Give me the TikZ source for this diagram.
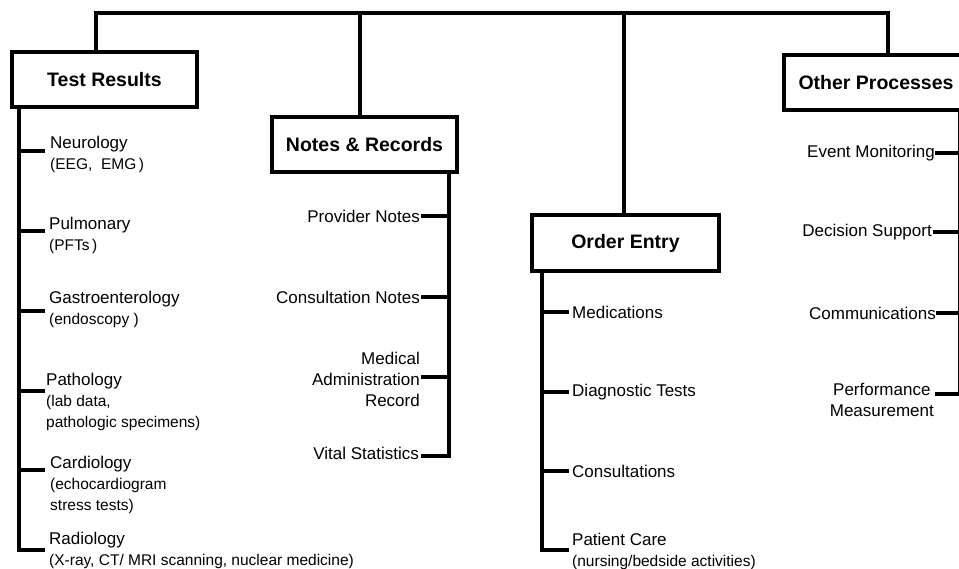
\documentclass[tikz,border=0pt]{standalone}
\usepackage{fontspec}
\setmainfont{Liberation Sans}
\newcommand{\SubTxt}{\fontsize{15.5}{20}\selectfont}
\tikzset{
    TreeLine/.style={line width=3.2pt},
    GroupBox/.style={draw, line width=3.2pt, inner sep=0pt, minimum height=55pt,
        font=\fontsize{19.5}{22}\selectfont\bfseries},
    ItemText/.style={inner sep=0pt, font=\fontsize{17}{21}\selectfont},
    ItemLeft/.style={ItemText, align=left, anchor=base west},
    ItemRight/.style={ItemText, anchor=east},
}

\begin{document}
\begin{tikzpicture}[x=1pt, y=-1pt]

    \clip (0,0) rectangle (959,569);
    \useasboundingbox (0,0) rectangle (959,569);

    % Dibujar las cajas principales
    \node [GroupBox, minimum width=185pt] (tests) at (104.5,79.5) {Test Results};
    \node [GroupBox, minimum width=185pt] (notes) at (364.5,144.5) {Notes \& Records};
    \node [GroupBox, minimum width=187pt, minimum height=56pt] (order) at (625.5,243) {Order Entry};
    \node [GroupBox, minimum width=184pt] (other) at (876,82.5) {Other Processes};

    % Barra superior
    \coordinate (dropA) at (96,13);
    \coordinate (dropB) at (360,13);
    \coordinate (dropC) at (624,13);
    \coordinate (dropD) at (888,13);
    \draw [TreeLine] (dropA |- tests.north) -- (dropA) -- (dropD) -- (dropD |- other.north);
    \draw [TreeLine] (dropB) -- (dropB |- notes.north);
    \draw [TreeLine] (dropC) -- (dropC |- order.north);

    \coordinate (spineA) at (19,0);
    \coordinate (spineB) at (449,0);
    \coordinate (spineC) at (542,0);
    \coordinate (spineD) at (959.5,0);

    % Resultados (la base es la ultima linea)
    \node [ItemLeft] (neuro) at (50,170) {Neurology\\\SubTxt (EEG,\ \ EMG\,)};
    \node [ItemLeft] (pulmo) at (49,251) {Pulmonary\\\SubTxt (PFTs\,)};
    \node [ItemLeft] (gastro) at (49,325) {Gastroenterology\\\SubTxt (endoscopy )};
    \node [ItemLeft] (patho) at (46,428) {Pathology\\\SubTxt (lab data,\\\SubTxt pathologic specimens)};
    \node [ItemLeft] (cardio) at (50,510) {Cardiology\\\SubTxt (echocardiogram\\\SubTxt stress tests)};
    \node [ItemLeft] (radio) at (49,565) {Radiology\\\SubTxt (X-ray, CT/ MRI scanning, nuclear medicine)};
    \coordinate (neuro-b) at (45,151);
    \coordinate (pulmo-b) at (45,231);
    \coordinate (gastro-b) at (45,311);
    \coordinate (patho-b) at (45,391);
    \coordinate (cardio-b) at (45,470);
    \coordinate (radio-b) at (45,550);
    \draw [TreeLine] (tests.south -| spineA) |- (radio-b);
    \draw [TreeLine] (neuro-b) -- (neuro-b -| spineA)
        (pulmo-b) -- (pulmo-b -| spineA)
        (gastro-b) -- (gastro-b -| spineA)
        (patho-b) -- (patho-b -| spineA)
        (cardio-b) -- (cardio-b -| spineA);

    % Notas
    \node [ItemRight] (prov) at (420,216) {Provider Notes};
    \node [ItemRight] (consn) at (420,297) {Consultation Notes};
    \node [ItemRight, align=right] (mar) at (420,379) {Medical\\Administration\\Record};
    \node [ItemRight] (vital) at (419,453) {Vital Statistics};
    \coordinate (prov-b) at (421,216);
    \coordinate (consn-b) at (421,297);
    \coordinate (mar-b) at (421,377);
    \coordinate (vital-b) at (421,456);
    \draw [TreeLine] (notes.south -| spineB) |- (vital-b);
    \draw [TreeLine] (prov-b) -- (prov-b -| spineB)
        (consn-b) -- (consn-b -| spineB)
        (mar-b) -- (mar-b -| spineB);

    % Ordenes
    \node [ItemText, anchor=west] (meds) at (572,312) {Medications};
    \node [ItemText, anchor=west] (diag) at (572,392) {Diagnostic Tests};
    \node [ItemText, anchor=west] (consu) at (572,471) {Consultations};
    \node [ItemLeft] (care) at (572,566) {Patient Care\\\SubTxt (nursing/bedside activities)};
    \coordinate (meds-b) at (569,312);
    \coordinate (diag-b) at (569,392);
    \coordinate (consu-b) at (569,471);
    \coordinate (care-b) at (569,550);
    \draw [TreeLine] (order.south -| spineC) |- (care-b);
    \draw [TreeLine] (meds-b) -- (meds-b -| spineC)
        (diag-b) -- (diag-b -| spineC)
        (consu-b) -- (consu-b -| spineC);

    % Otros procesos
    \node [ItemRight] (event) at (935,153) {Event Monitoring};
    \node [ItemRight] (decis) at (932,232) {Decision Support};
    \node [ItemRight] (commu) at (936,313) {Communications};
    \node [ItemRight, align=center] (perf) at (934,400) {Performance\\Measurement};
    \coordinate (event-b) at (935,153);
    \coordinate (decis-b) at (933,232);
    \coordinate (commu-b) at (936,313);
    \coordinate (perf-b) at (935,394);
    \draw [TreeLine] (other.south -| spineD) |- (perf-b);
    \draw [TreeLine] (event-b) -- (event-b -| spineD)
        (decis-b) -- (decis-b -| spineD)
        (commu-b) -- (commu-b -| spineD);

\end{tikzpicture}
\end{document}
